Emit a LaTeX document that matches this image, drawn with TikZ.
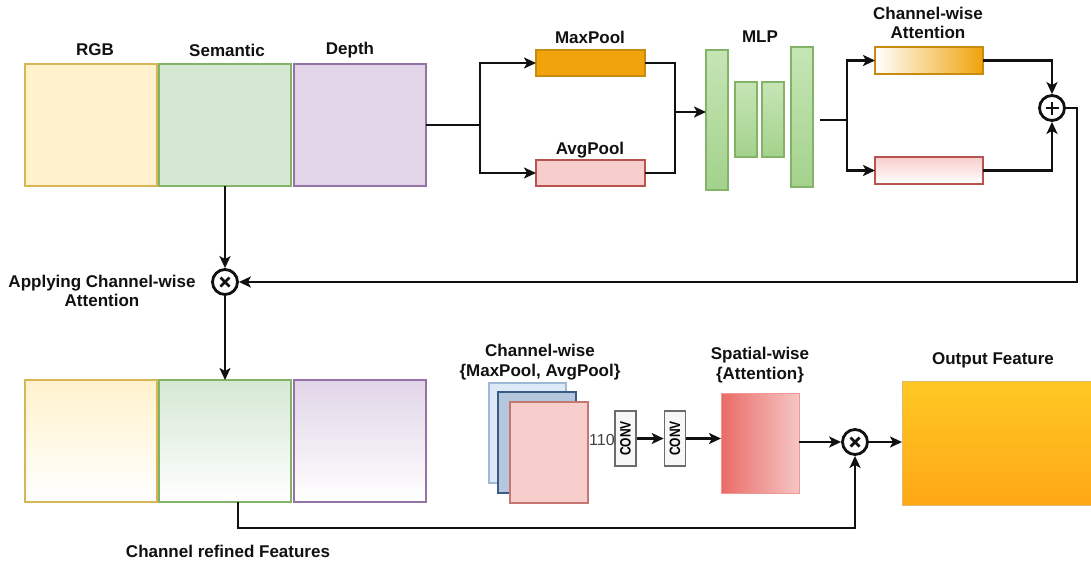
\documentclass[tikz,border=0pt]{standalone}
\usepackage{fontspec}
\setmainfont{Liberation Sans}
\usetikzlibrary{arrows.meta}
\definecolor{rgbF}{HTML}{FFF2CC}\definecolor{rgbE}{HTML}{D6B656}
\definecolor{semF}{HTML}{D5E8D4}\definecolor{semE}{HTML}{82B366}
\definecolor{depF}{HTML}{E1D5E7}\definecolor{depE}{HTML}{9673A6}
\definecolor{orgF}{HTML}{F0A30A}\definecolor{orgE}{HTML}{C98A10}
\definecolor{pnkF}{HTML}{F8CECC}\definecolor{pnkE}{HTML}{B85450}
\definecolor{mlpT}{HTML}{C6E5B6}\definecolor{mlpB}{HTML}{A3D28C}
\definecolor{blu1F}{HTML}{DDE9F7}\definecolor{blu1E}{HTML}{9FB8D8}
\definecolor{blu2F}{HTML}{B4C7DC}\definecolor{blu2E}{HTML}{3A5A88}
\definecolor{spaL}{HTML}{EA6B66}\definecolor{spaR}{HTML}{F5C6C4}
\definecolor{outT}{HTML}{FFC823}\definecolor{outB}{HTML}{FFA716}
\definecolor{convF}{HTML}{F7F7F7}\definecolor{convE}{HTML}{6B6B6B}
\definecolor{ink}{HTML}{111111}
\begin{document}
\begin{tikzpicture}[x=1pt,y=-1pt,
  box/.style={rectangle,inner sep=0pt,outer sep=0pt,line width=2.8pt,anchor=north west},
  lbl/.style={font=\bfseries\fontsize{17}{19.5}\selectfont,text=ink,align=center,inner sep=0pt},
  conn/.style={line width=2.8pt,draw=ink},
  arr/.style={conn,-{Stealth[length=12pt,width=11pt,inset=3pt]}},
  opcirc/.style={circle,draw=ink,line width=2.8pt,minimum size=25pt,inner sep=0pt,fill=white},
  convbox/.style={rectangle,draw=convE,fill=convF,line width=1.6pt,minimum width=21pt,minimum height=55pt,inner sep=0pt,font=\bfseries\fontsize{15}{16}\selectfont},
]
\useasboundingbox (0,0) rectangle (1091,563);

% ---------- input features ----------
\node[box,draw=rgbE,fill=rgbF,minimum width=132pt,minimum height=122pt] (rgb) at (25,64) {};
\node[box,draw=semE,fill=semF,minimum width=132pt,minimum height=122pt] (sem) at (159,64) {};
\node[box,draw=depE,fill=depF,minimum width=132pt,minimum height=122pt] (dep) at (294,64) {};
\node[lbl] (lrgb) at (95,50) {RGB};
\node[lbl] (lsem) at (227,50) {Semantic};
\node[lbl] (ldep) at (350,50) {Depth};

% ---------- pooling ----------
\node[box,draw=orgE,fill=orgF,line width=2pt,minimum width=109pt,minimum height=26pt] (maxp) at (536,50) {};
\node[box,draw=pnkE,fill=pnkF,line width=2pt,minimum width=109pt,minimum height=26pt] (avgp) at (536,160) {};
\node[lbl] (lmax) at (590,37) {MaxPool};
\node[lbl] (lavg) at (590,150) {AvgPool};

\coordinate (s1) at (480,125);
\draw[conn] (dep.east) -- (s1);
\draw[arr] (s1) |- (maxp.west);
\draw[arr] (s1) |- (avgp.west);

% ---------- shared MLP ----------
\node[box,draw=semE,top color=mlpT,bottom color=mlpB,line width=2pt,minimum width=22pt,minimum height=140pt] (mlp1) at (706,50) {};
\node[box,draw=semE,top color=mlpT,bottom color=mlpB,line width=2pt,minimum width=22pt,minimum height=75pt] (mlp2) at (735,82) {};
\node[box,draw=semE,top color=mlpT,bottom color=mlpB,line width=2pt,minimum width=22pt,minimum height=75pt] (mlp3) at (762,82) {};
\node[box,draw=semE,top color=mlpT,bottom color=mlpB,line width=2pt,minimum width=22pt,minimum height=140pt] (mlp4) at (791,47) {};
\node[lbl] (lmlp) at (760,37) {MLP};

\coordinate (j1) at (675,112);
\draw[conn] (maxp.east) -| (j1);
\draw[conn] (avgp.east) -| (j1);
\draw[arr] (j1) -- (mlp1.west |- j1);

% ---------- channel-wise attention ----------
\node[box,draw=orgE,left color=white,right color=orgF,line width=2pt,minimum width=108pt,minimum height=27pt] (catt) at (875,47) {};
\node[box,draw=pnkE,top color=pnkF,bottom color=white,line width=2pt,minimum width=108pt,minimum height=27pt] (satt) at (875,157) {};
\node[lbl] (latt) at (928,23) {Channel-wise\\Attention};

\coordinate (m0) at (820,120);
\coordinate (s2) at (847,120);
\draw[conn] (m0) -- (s2);
\draw[arr] (s2) |- (catt.west);
\draw[arr] (s2) |- (satt.west);

\node[opcirc] (plus) at (1052,108) {};
\draw[conn] ([xshift=-6.5pt]plus.center) -- ([xshift=6.5pt]plus.center);
\draw[conn] ([yshift=-6.5pt]plus.center) -- ([yshift=6.5pt]plus.center);
\draw[arr] (catt.east) -| (plus.north);
\draw[arr] (satt.east) -| (plus.south);

% ---------- applying attention ----------
\node[opcirc] (mul1) at (225,282) {};
\draw[conn] ([shift={(-4.5pt,-4.5pt)}]mul1.center) -- ([shift={(4.5pt,4.5pt)}]mul1.center);
\draw[conn] ([shift={(-4.5pt,4.5pt)}]mul1.center) -- ([shift={(4.5pt,-4.5pt)}]mul1.center);
\node[lbl] (lapp) at (102,291) {Applying Channel-wise\\Attention};

\coordinate (r1) at (1077,108);
\draw[arr] (plus.east) -- (r1) |- (mul1.east);
\draw[arr] (sem.south) -- (mul1.north);

% ---------- channel refined features ----------
\node[box,draw=rgbE,top color=rgbF,bottom color=white,minimum width=132pt,minimum height=122pt] (rgb2) at (25,380) {};
\node[box,draw=semE,top color=semF,bottom color=white,minimum width=132pt,minimum height=122pt] (sem2) at (159,380) {};
\node[box,draw=depE,top color=depF,bottom color=white,minimum width=132pt,minimum height=122pt] (dep2) at (294,380) {};
\node[lbl] (lref) at (228,551) {Channel refined Features};
\draw[arr] (mul1.south) -- (sem2.north);

% ---------- spatial attention ----------
\node[box,draw=blu1E,fill=blu1F,line width=1.6pt,minimum width=77pt,minimum height=100pt] (card1) at (489,383) {};
\node[box,draw=blu2E,fill=blu2F,line width=1.6pt,minimum width=78pt,minimum height=101pt] (card2) at (498,392) {};
\node[box,draw=pnkE!80,fill=pnkF,line width=1.6pt,minimum width=78pt,minimum height=101pt] (card3) at (510,402) {};
\node[lbl] (lcard) at (540,362) {Channel-wise\\\{MaxPool, AvgPool\}};

\node[anchor=west,inner sep=0pt,font=\fontsize{16}{18}\selectfont,text=black!75] (dim) at (589,440) {1100};
\node[convbox] (conv1) at (625.5,438.5) {\rotatebox{90}{\scalebox{0.8}[1]{CONV}}};
\node[convbox] (conv2) at (675,438.5) {\rotatebox{90}{\scalebox{0.8}[1]{CONV}}};
\draw[arr] (conv1.east) -- (conv2.west);

\node[box,draw=spaL!70,left color=spaL,right color=spaR,line width=1pt,minimum width=78pt,minimum height=100pt] (spat) at (721,393) {};
\node[lbl] (lspat) at (760,365) {Spatial-wise\\\{Attention\}};
\draw[arr] (conv2.east) -- (spat.west |- conv2.east);

\node[opcirc] (mul2) at (855,442) {};
\draw[conn] ([shift={(-4.5pt,-4.5pt)}]mul2.center) -- ([shift={(4.5pt,4.5pt)}]mul2.center);
\draw[conn] ([shift={(-4.5pt,4.5pt)}]mul2.center) -- ([shift={(4.5pt,-4.5pt)}]mul2.center);
\draw[arr] (spat.east |- mul2.west) -- (mul2.west);
\draw[arr] ([xshift=13pt]sem2.south) -- ++(0,26) -| (mul2.south);

% ---------- output ----------
\node[box,draw=orgE!60,top color=outT,bottom color=outB,line width=1pt,minimum width=192pt,minimum height=124pt] (out) at (902,381) {};
\node[lbl] (lout) at (993,360) {Output Feature};
\draw[arr] (mul2.east) -- (out.west |- mul2.east);
\end{tikzpicture}
\end{document}
